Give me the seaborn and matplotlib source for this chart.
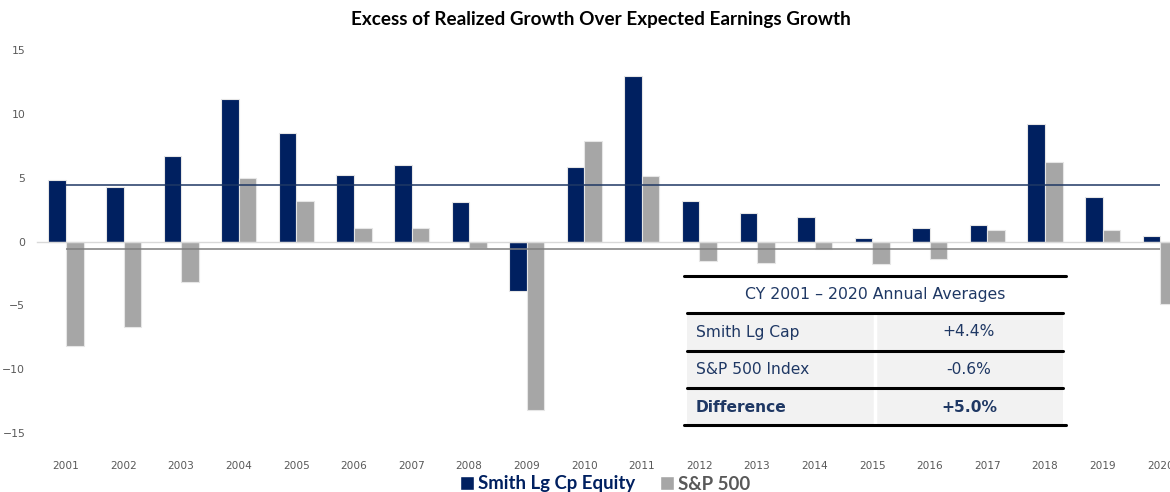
import pandas as pd
import numpy as np
import seaborn as sns
import matplotlib.pyplot as plt
from matplotlib.patches import Patch, Rectangle
from matplotlib.lines import Line2D

# data
years = [str(y) for y in range(2001, 2021)]
smith = [4.8, 4.3, 6.7, 11.2, 8.5, 5.2, 6.0, 3.1, -3.85, 5.85,
         12.95, 3.2, 2.2, 1.9, 0.25, 1.05, 1.3, 9.2, 3.45, 0.4]
spx = [-8.2, -6.7, -3.2, 5.0, 3.15, 1.05, 1.05, -0.5, -13.2, 7.9,
       5.1, -1.5, -1.7, -0.55, -1.8, -1.4, 0.9, 6.25, 0.88, -4.9]
series = ['Smith Lg Cp Equity', 'S&P 500']
smith_avg = 4.4
spx_avg = -0.6

table_title = 'CY 2001 \u2013 2020 Annual Averages'
table_rows = ['Smith Lg Cap', 'S&P 500 Index', 'Difference']
table_vals = ['+4.4%', '-0.6%', '+5.0%']

navy = '#002060'
grey = '#a6a6a6'
txt_navy = '#1f3864'

df = pd.DataFrame({
    'Year': years * 2,
    'Series': [series[0]] * len(years) + [series[1]] * len(years),
    'Value': smith + spx,
})

sns.set_style('white')
W, H = 1170, 492
fig = plt.figure(figsize=(W / 100, H / 100), dpi=100)

def fx(px):
    return px / W

def fy(py):
    return 1 - py / H

# axes run past the right edge like the original export
ax = fig.add_axes([fx(37.2), fy(433), fx(1189 - 37.2), (433 - 50) / H])

sns.barplot(data=df, x='Year', y='Value', hue='Series', hue_order=series,
            palette=[navy, grey], width=0.61, gap=0, edgecolor='#e6e6e6',
            linewidth=0.8, saturation=1, ax=ax, legend=False, zorder=2)

ax.set_xlim(-0.5, len(years) - 0.5)
ax.set_ylim(-15, 15)
ax.set_yticks([-15, -10, -5, 0, 5, 10, 15])
ax.tick_params(axis='y', length=0, pad=8.6, labelsize=7.8, labelcolor='#595959')
ax.set_xlabel('')
ax.set_ylabel('')

for s in ['top', 'right', 'left']:
    ax.spines[s].set_visible(False)
ax.spines['bottom'].set_position(('data', 0))
ax.spines['bottom'].set_color('#d9d9d9')
ax.spines['bottom'].set_linewidth(1.0)
ax.set_xticks(np.arange(len(years)))
ax.set_xticklabels([])
ax.tick_params(axis='x', which='major', length=0)
ax.set_xticks(np.arange(len(years) + 1) - 0.5, minor=True)
ax.tick_params(axis='x', which='minor', length=4, width=1, color='#d9d9d9', direction='out')

for i, y in enumerate(years):
    ax.text(i, -0.085, y, transform=ax.get_xaxis_transform(), ha='center', va='center',
            fontsize=7.6, color='#595959')

# average lines
ax.hlines(smith_avg, 0, len(years) - 1, color='#1f3864', lw=1.1, zorder=3)
ax.hlines(spx_avg, 0, len(years) - 1, color='#7f7f7f', lw=1.1, zorder=3)

fig.text(fx(601), fy(20), 'Excess of Realized Growth Over Expected Earnings Growth',
         ha='center', va='center', fontsize=13.6, fontweight='bold', family='Lato', color='black')

handles = [Patch(facecolor=navy), Patch(facecolor=grey)]
leg = fig.legend(handles, series, loc='center', bbox_to_anchor=(fx(605), fy(484)), ncol=2,
                 frameon=False, handlelength=0.8, handleheight=0.8, handletextpad=0.2,
                 columnspacing=1.3, labelcolor=[navy, '#595959'],
                 prop={'family': 'Lato', 'weight': 'bold', 'size': 13.4})

# averages table
fig.add_artist(Rectangle((fx(687), fy(425)), fx(1063 - 687), (425 - 313) / H,
                         facecolor='#f2f2f2', edgecolor='none'))
fig.add_artist(Line2D([fx(875), fx(875)], [fy(313), fy(425)], color='white', lw=2.5))
for py, x0, x1 in [(276, 684, 1066), (313, 687, 1063), (350.5, 687, 1063),
                   (388, 687, 1063), (425, 684, 1066)]:
    fig.add_artist(Line2D([fx(x0), fx(x1)], [fy(py), fy(py)], color='black', lw=2.2))

fig.text(fx(875), fy(295), table_title, ha='center', va='center', fontsize=11.3, color=txt_navy)
row_y = [332, 370, 408]
for i, (lab, val) in enumerate(zip(table_rows, table_vals)):
    w = 'bold' if i == len(table_rows) - 1 else 'normal'
    fig.text(fx(696), fy(row_y[i]), lab, ha='left', va='center', fontsize=11.2,
             color=txt_navy, fontweight=w)
    fig.text(fx(969), fy(row_y[i]), val, ha='center', va='center', fontsize=11.2,
             color=txt_navy, fontweight=w)

fig.savefig('out.png', dpi=100)
